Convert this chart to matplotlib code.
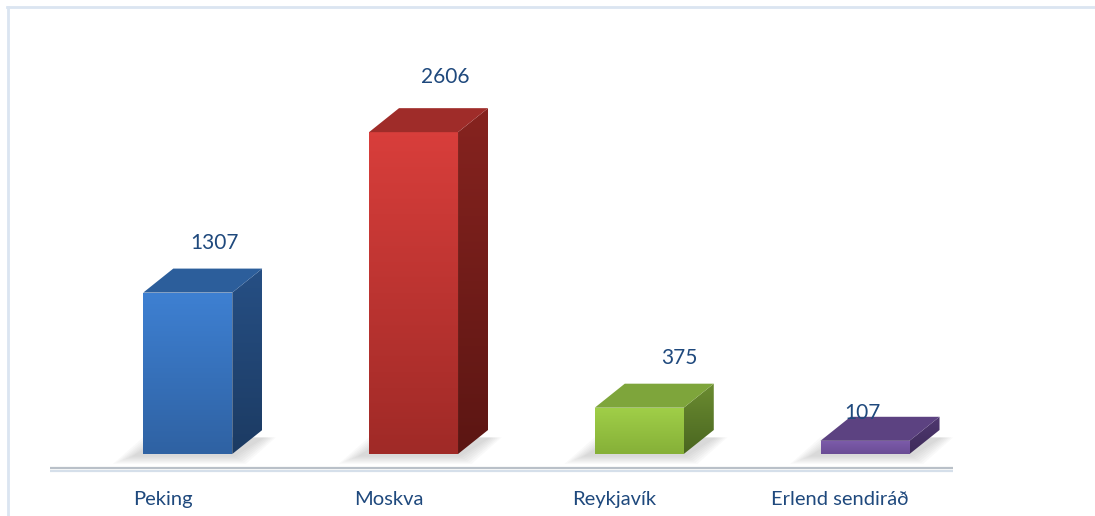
import matplotlib

matplotlib.use("Agg")
import matplotlib.pyplot as plt
import numpy as np
from matplotlib.colors import LinearSegmentedColormap
from matplotlib.lines import Line2D
from matplotlib.patches import Polygon

# data
categories = ["Peking", "Moskva", "Reykjavík", "Erlend sendiráð"]
values = [1307, 2606, 375, 107]

# colours per bar: front top, front bottom, top face, side top, side bottom
front_top = ["#3e80d2", "#d83e3b", "#a0cf48", "#7d5cab"]
front_bot = ["#2f62a3", "#a02a27", "#86b038", "#6a4c95"]
top_face = ["#2c5e9b", "#9f2c29", "#7ea53b", "#5c4281"]
side_top = ["#264f84", "#86231f", "#6b8c31", "#4f3870"]
side_bot = ["#1c3b63", "#5c1613", "#4a6620", "#3e2b5a"]

# label nudges (category units, value units) to follow the reference layout
label_dx = [0.23, 0.25, 0.29, 0.10]
label_dy = [400, 445, 400, 225]

TEXT = "#1f497d"
plt.rcParams["font.family"] = ["Lato", "DejaVu Sans"]

W, H = 1095, 516
fig = plt.figure(figsize=(W / 100, H / 100), dpi=100)

# axes placed so that one category slot is ~226 px and 1 unit ~0.1235 px
y_lo, y_hi = -400, 3600
px_per_unit = 0.1235
ax_h = (y_hi - y_lo) * px_per_unit
base_px = 454  # baseline, from top
ax_bottom = H - base_px - (-y_lo) * px_per_unit
ax = fig.add_axes([50 / W, ax_bottom / H, 903 / W, ax_h / H])
ax.set_axis_off()

slot_px = 903 / 4
left_off = -19.6 / slot_px
bar_w = 89 / slot_px
dx = 30 / slot_px
dy = 24 / px_per_unit


def gradient(ax, patch, c_top, c_bot, extent):
  cmap = LinearSegmentedColormap.from_list("g", [c_bot, c_top])
  grad = np.linspace(0, 1, 64).reshape(-1, 1)
  im = ax.imshow(grad, cmap=cmap, origin="lower", extent=extent,
                 aspect="auto", zorder=patch.get_zorder(), interpolation="bilinear")
  im.set_clip_path(patch)


for i, (name, v) in enumerate(zip(categories, values)):
  x0 = i + left_off
  x1 = x0 + bar_w

  # soft shadow on the floor, mostly to the lower left
  for k in range(7):
    s = 0.014 * k
    sh = Polygon([(x0 - 0.05 - s, -20 - 10 * k), (x1 + 0.01 + 0.6 * s, -20 - 10 * k),
                  (x1 + dx + 0.01 + 0.6 * s, dy - 60), (x0 + dx - 0.05 - s, dy - 60)],
                 closed=True, facecolor="#606060", edgecolor="none",
                 alpha=0.035, zorder=1)
    ax.add_patch(sh)

  front = Polygon([(x0, 0), (x1, 0), (x1, v), (x0, v)], closed=True,
                  facecolor="none", edgecolor="none", zorder=3)
  ax.add_patch(front)
  gradient(ax, front, front_top[i], front_bot[i], (x0, x1, 0, v))

  side = Polygon([(x1, 0), (x1 + dx, dy), (x1 + dx, v + dy), (x1, v)],
                 closed=True, facecolor="none", edgecolor="none", zorder=3)
  ax.add_patch(side)
  gradient(ax, side, side_top[i], side_bot[i], (x1, x1 + dx, 0, v + dy))

  top = Polygon([(x0, v), (x1, v), (x1 + dx, v + dy), (x0 + dx, v + dy)],
                closed=True, facecolor=top_face[i], edgecolor="none", zorder=4)
  ax.add_patch(top)

  ax.text(i + label_dx[i], v + label_dy[i], f"{v}", ha="center", va="center",
          fontsize=15, color=TEXT, zorder=6)
  ax.text(i, -372, name, ha="center", va="center", fontsize=14.5, color=TEXT)

# floor line
ax.plot([-0.5, 3.5], [-115, -115], color="#b9c0c8", lw=1.6, zorder=2,
        solid_capstyle="butt")
ax.plot([-0.5, 3.5], [-135, -135], color="#d5dfea", lw=1.6, zorder=2,
        solid_capstyle="butt")

ax.set_xlim(-0.5, 3.5)
ax.set_ylim(y_lo, y_hi)

# light frame along top and left
border = "#dbe5f1"
fig.add_artist(Line2D([7 / W, 1], [1 - 6.5 / H, 1 - 6.5 / H], color=border, lw=2,
                      transform=fig.transFigure))
fig.add_artist(Line2D([7.5 / W, 7.5 / W], [0, 1 - 6.5 / H], color=border, lw=2,
                      transform=fig.transFigure))

fig.savefig("out.png", dpi=100)
